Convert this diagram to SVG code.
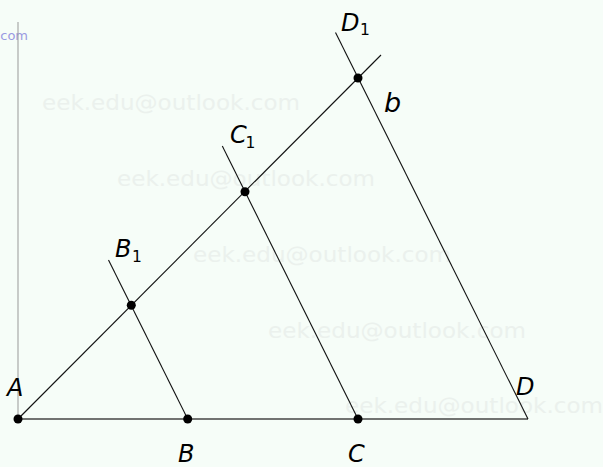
<svg xmlns="http://www.w3.org/2000/svg" width="603" height="467" viewBox="0 0 603 467">
<style>
.wm{font-family:"DejaVu Sans",sans-serif;font-size:22px;fill:#ebf1ed}
.ln{stroke:#111;stroke-width:1.1;fill:none}
.lb{font-family:"DejaVu Sans",sans-serif;font-style:italic;font-size:24px;fill:#000}
.sb{font-family:"DejaVu Sans",sans-serif;font-size:15.5px;fill:#000}
.pt{fill:#000}
</style>
<rect width="603" height="467" fill="#f6fdf8"/>
<g id="watermarks">
<text class="wm" x="42" y="110" textLength="258" lengthAdjust="spacingAndGlyphs">eek.edu@outlook.com</text>
<text class="wm" x="117" y="186" textLength="258" lengthAdjust="spacingAndGlyphs">eek.edu@outlook.com</text>
<text class="wm" x="193" y="262" textLength="258" lengthAdjust="spacingAndGlyphs">eek.edu@outlook.com</text>
<text class="wm" x="268" y="338" textLength="258" lengthAdjust="spacingAndGlyphs">eek.edu@outlook.com</text>
<text class="wm" x="345" y="413" textLength="258" lengthAdjust="spacingAndGlyphs">eek.edu@outlook.com</text>
<text x="28" y="40" text-anchor="end" style="font-family:'DejaVu Sans',sans-serif;font-size:13px;fill:#9a9ae2">com</text>
</g>
<g id="connectors">
<line x1="18" y1="22" x2="18" y2="419" stroke="#999" stroke-width="1"/>
<line x1="18" y1="419" x2="528" y2="419" stroke="#444" stroke-width="1.3"/>
<line class="ln" x1="18" y1="419" x2="381" y2="55"/>
<line class="ln" x1="108.5" y1="260" x2="187.7" y2="419"/>
<line class="ln" x1="222.3" y1="146" x2="358" y2="419"/>
<line class="ln" x1="335.5" y1="32.5" x2="528" y2="419"/>
</g>
<g id="node-A"><circle class="pt" cx="18" cy="419" r="4.5"/><text class="lb" x="7" y="396">A</text></g>
<g id="node-B"><circle class="pt" cx="187.7" cy="419" r="4.5"/><text class="lb" x="178" y="462">B</text></g>
<g id="node-C"><circle class="pt" cx="358" cy="419" r="4.5"/><text class="lb" x="348" y="462">C</text></g>
<g id="node-D"><text class="lb" x="516" y="395">D</text></g>
<g id="node-B1"><circle class="pt" cx="131.3" cy="305.3" r="4.5"/><text class="lb" x="115" y="257">B</text><text class="sb" x="132" y="262">1</text></g>
<g id="node-C1"><circle class="pt" cx="245" cy="191.7" r="4.5"/><text class="lb" x="230" y="143">C</text><text class="sb" x="245.5" y="147.5">1</text></g>
<g id="node-D1"><circle class="pt" cx="358" cy="78" r="4.5"/><text class="lb" x="341" y="31">D</text><text class="sb" x="360" y="34.5">1</text></g>
<g id="label-b"><text class="lb" x="384" y="112" style="font-size:27px">b</text></g>
</svg>
